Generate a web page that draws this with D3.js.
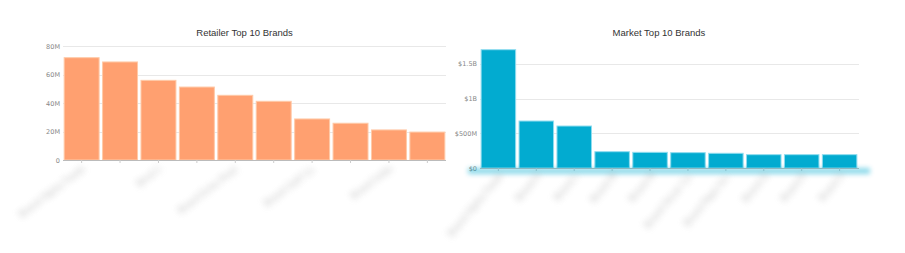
<!DOCTYPE html>
<html><head><meta charset="utf-8">
<script src="https://cdn.jsdelivr.net/npm/d3@7"></script>
<style>body{margin:0;background:#fff}svg{display:block}</style></head>
<body><svg id="c" width="905" height="253"></svg>
<script>
const retailerBrands = ["Brand Alpha Foods", "Brand Beta", "Brnd C", "Brand Delta", "Brand Echo Prod.", "Brand Fox", "Brand Golf Co.", "Brand Hotel", "Brand India", "Brand Juliet"];
const retailerSales = [71.8e6, 68.8e6, 55.9e6, 51.2e6, 45.4e6, 41.2e6, 28.8e6, 25.8e6, 21.1e6, 19.6e6];
const retailerTicks = [0, 20e6, 40e6, 60e6, 80e6];
const retailerTickLabels = ["0", "20M", "40M", "60M", "80M"];

const marketBrands = ["Brand Alpha Foods", "Brand K", "Brand L", "Brand M", "Brand N", "Brand Oscar Co.", "Brand Papa Inc.", "Brand Q", "Brand R", "Brand S"];
const marketSales = [1705e6, 677e6, 605e6, 235e6, 226e6, 221e6, 212e6, 192e6, 192e6, 192e6];
const marketTicks = [0, 500e6, 1e9, 1.5e9];
const marketTickLabels = ["$0", "$500M", "$1B", "$1.5B"];

const svg = d3.select("#c");
const defs = svg.append("defs");
defs.append("filter").attr("id", "blur").attr("x", "-50%").attr("y", "-50%").attr("width", "200%").attr("height", "200%")
  .append("feGaussianBlur").attr("stdDeviation", 3);
defs.append("filter").attr("id", "glow").attr("x", "-20%").attr("y", "-200%").attr("width", "140%").attr("height", "500%")
  .append("feGaussianBlur").attr("stdDeviation", 2.8);

function drawChart(o) {
  const g = svg.append("g");
  const x = d3.scaleBand().domain(o.cats).range(o.xr).paddingInner(0.09).paddingOuter(0.03);
  const y = d3.scaleLinear().domain([0, o.yMax]).range(o.yr);

  // title
  g.append("text").attr("x", (o.xr[0] + o.xr[1]) / 2 - 10).attr("y", 36)
    .attr("text-anchor", "middle").attr("font-family", "Liberation Sans, Arial, sans-serif")
    .attr("font-size", 9.5).attr("fill", "#333").text(o.title);

  // gridlines
  g.selectAll("line.grid").data(o.ticks.filter(t => t > 0)).join("line")
    .attr("x1", o.xr[0]).attr("x2", o.gridEnd)
    .attr("y1", d => Math.round(y(d)) + 0.5).attr("y2", d => Math.round(y(d)) + 0.5)
    .attr("stroke", "#e8e8e8").attr("stroke-width", 1);

  // y tick labels
  g.selectAll("text.yt").data(o.ticks).join("text")
    .attr("x", o.xr[0] - 3).attr("y", d => y(d) + 2.5)
    .attr("text-anchor", "end").attr("font-family", "DejaVu Sans, sans-serif")
    .attr("font-size", 6.5).attr("fill", "#888")
    .text((d, i) => o.tickLabels[i]);

  // bars
  g.selectAll("rect.bar").data(o.vals).join("rect")
    .attr("x", (d, i) => x(o.cats[i])).attr("width", x.bandwidth())
    .attr("y", d => y(d)).attr("height", d => y(0) - y(d))
    .attr("fill", o.color).attr("stroke", o.stroke).attr("stroke-width", 1);

  // axis line
  const ax = g.append("g").attr("transform", `translate(0,${y(0)})`)
    .call(d3.axisBottom(x).tickSize(3).tickFormat(""));
  ax.select(".domain").attr("stroke", "#bbb").attr("d", `M${o.xr[0]},0.5H${o.gridEnd}`);
  ax.selectAll(".tick line").attr("stroke", "#ccc");

  if (o.glow) {
    g.append("rect").attr("x", o.xr[0] - 12).attr("width", o.xr[1] - o.xr[0] + 24)
      .attr("y", y(0)).attr("height", 6).attr("fill", o.color).attr("opacity", 0.45)
      .attr("filter", "url(#glow)");
  }

  // blurred x labels
  g.selectAll("text.xl").data(o.cats.filter((c, i) => o.showLabel(i))).join("text")
    .attr("transform", d => `translate(${x(d) + x.bandwidth() / 2 + o.lx},${y(0) + o.ly}) rotate(${o.angle})`)
    .attr("text-anchor", "end").attr("font-family", "DejaVu Sans, sans-serif")
    .attr("font-size", 8.5).attr("fill", "#999").attr("opacity", 0.65)
    .attr("filter", "url(#blur)").text(d => d);
}

drawChart({
  title: "Retailer Top 10 Brands", cats: retailerBrands, vals: retailerSales,
  ticks: retailerTicks, tickLabels: retailerTickLabels, yMax: 80e6,
  xr: [63, 446], gridEnd: 446, yr: [160, 46],
  color: "#ffa070", stroke: "#ffcaa8", glow: false,
  showLabel: i => i % 2 === 0, angle: -37, lx: 4, ly: 10
});

drawChart({
  title: "Market Top 10 Brands", cats: marketBrands, vals: marketSales,
  ticks: marketTicks, tickLabels: marketTickLabels, yMax: 1705e6,
  xr: [480, 858], gridEnd: 859, yr: [168, 49.7],
  color: "#02abd0", stroke: "#8fdcef", glow: true,
  showLabel: i => true, angle: -50, lx: 5, ly: 8
});
</script>
</body></html>
